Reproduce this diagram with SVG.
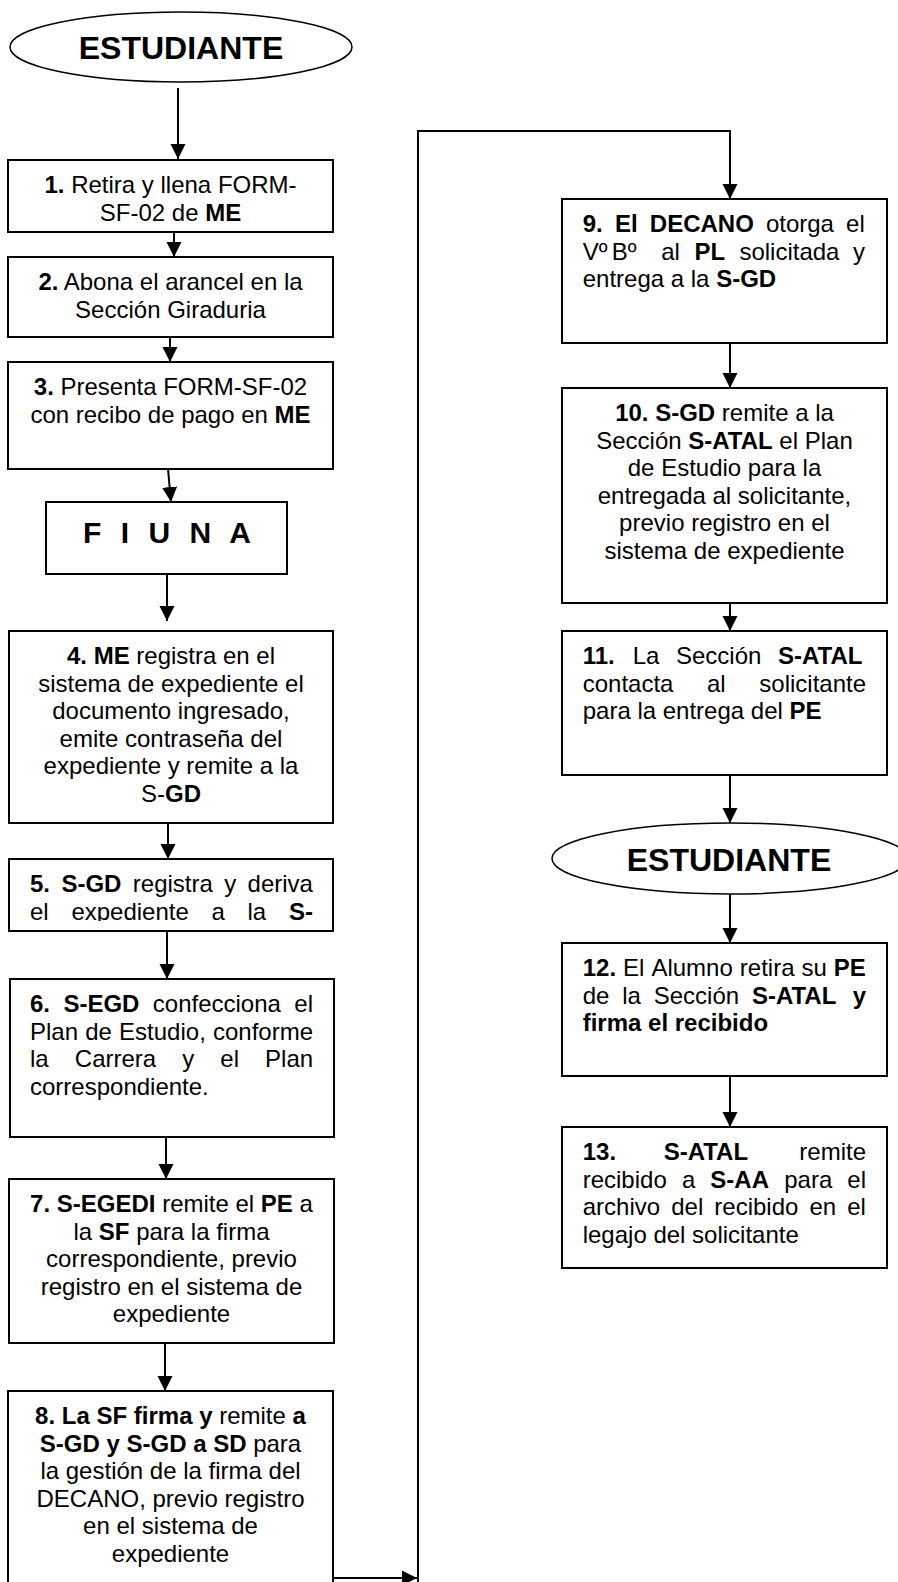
<svg xmlns="http://www.w3.org/2000/svg" width="898" height="1582" viewBox="0 0 898 1582">
<style>
.box{fill:#fff;stroke:#000;stroke-width:2}
.ell{fill:#fff;stroke:#000;stroke-width:1.5}
.t{font-family:"Liberation Sans",Arial,sans-serif;font-size:24px;fill:#000}
.c{text-anchor:middle}
.b{font-weight:bold}
.big{font-family:"Liberation Sans",Arial,sans-serif;font-size:32px;font-weight:bold;fill:#000;text-anchor:middle}
.con{fill:none;stroke:#000;stroke-width:2}
</style>
<defs>
<marker id="ah" viewBox="0 0 10 10" refX="10" refY="5" markerWidth="15" markerHeight="16" markerUnits="userSpaceOnUse" orient="auto"><path d="M0,0L10,5L0,10z" fill="#000"/></marker>
<clipPath id="clip5"><rect x="9" y="859" width="324" height="62"/></clipPath>
</defs>
<rect width="898" height="1582" fill="#fff"/>

<g id="connectors">
<path class="con" d="M178,88V159" marker-end="url(#ah)"/>
<path class="con" d="M174,232V257" marker-end="url(#ah)"/>
<path class="con" d="M170,337V362" marker-end="url(#ah)"/>
<path class="con" d="M168,469L171,502" marker-end="url(#ah)"/>
<path class="con" d="M167,574V621" marker-end="url(#ah)"/>
<path class="con" d="M168,823V859" marker-end="url(#ah)"/>
<path class="con" d="M167,931V979" marker-end="url(#ah)"/>
<path class="con" d="M166,1137V1179" marker-end="url(#ah)"/>
<path class="con" d="M165,1343V1391" marker-end="url(#ah)"/>
<path class="con" d="M333,1578H417" marker-end="url(#ah)"/>
<path class="con" d="M418,1582V131H730V199" marker-end="url(#ah)"/>
<path class="con" d="M730,343V388" marker-end="url(#ah)"/>
<path class="con" d="M730,603V631" marker-end="url(#ah)"/>
<path class="con" d="M730,775V823" marker-end="url(#ah)"/>
<path class="con" d="M730,894V943" marker-end="url(#ah)"/>
<path class="con" d="M730,1076V1127" marker-end="url(#ah)"/>
</g>

<g id="n-start">
<ellipse class="ell" cx="181" cy="47" rx="171" ry="35"/>
<text class="big" x="181" y="59">ESTUDIANTE</text>
</g>

<g id="n1">
<rect class="box" x="8" y="160" width="325" height="72"/>
<text class="t c" x="170.5" y="193"><tspan class="b">1.</tspan> Retira y llena FORM-</text>
<text class="t c" x="170.5" y="220.6">SF-02 de <tspan class="b">ME</tspan></text>
</g>

<g id="n2">
<rect class="box" x="8" y="257" width="325" height="80"/>
<text class="t c" x="170.5" y="290"><tspan class="b">2.</tspan> Abona el arancel en la</text>
<text class="t c" x="170.5" y="317.6">Sección Giraduria</text>
</g>

<g id="n3">
<rect class="box" x="8" y="362" width="325" height="107"/>
<text class="t c" x="170.5" y="395"><tspan class="b">3.</tspan> Presenta FORM-SF-02</text>
<text class="t c" x="170.5" y="422.6">con recibo de pago en <tspan class="b">ME</tspan></text>
</g>

<g id="n-fiuna">
<rect class="box" x="46" y="502" width="241" height="72"/>
<text x="83" y="543" textLength="168" lengthAdjust="spacing" style="font-family:'Liberation Sans',Arial,sans-serif;font-size:30px;font-weight:bold;fill:#000">F I U N A</text>
</g>

<g id="n4">
<rect class="box" x="9" y="631" width="324" height="192"/>
<text class="t c" x="171" y="664"><tspan class="b">4. ME</tspan> registra en el</text>
<text class="t c" x="171" y="691.6">sistema de expediente el</text>
<text class="t c" x="171" y="719.2">documento ingresado,</text>
<text class="t c" x="171" y="746.8">emite contraseña del</text>
<text class="t c" x="171" y="774.4">expediente y remite a la</text>
<text class="t c" x="171" y="802">S-<tspan class="b">GD</tspan></text>
</g>

<g id="n5">
<rect class="box" x="9" y="859" width="324" height="72"/>
<g clip-path="url(#clip5)">
<text class="t" y="892"><tspan x="30" class="b">5.</tspan><tspan x="61.4" class="b">S-GD</tspan><tspan x="132.8">registra</tspan><tspan x="224.2">y</tspan><tspan x="247.6">deriva</tspan></text>
<text class="t" y="919.6"><tspan x="30">el</tspan><tspan x="71.4">expediente</tspan><tspan x="211.5">a</tspan><tspan x="247.5">la</tspan><tspan x="288.9" class="b">S-</tspan></text>
</g>
</g>

<g id="n6">
<rect class="box" x="10" y="979" width="324" height="158"/>
<text class="t" y="1012"><tspan x="30" class="b">6.</tspan><tspan x="63.4" class="b">S-EGD</tspan><tspan x="152.8">confecciona</tspan><tspan x="294.3">el</tspan></text>
<text class="t" y="1039.6"><tspan x="30">Plan</tspan><tspan x="85.2">de</tspan><tspan x="119.1">Estudio,</tspan><tspan x="213">conforme</tspan></text>
<text class="t" y="1067.2"><tspan x="30">la</tspan><tspan x="74.8">Carrera</tspan><tspan x="182.2">y</tspan><tspan x="220.3">el</tspan><tspan x="265.1">Plan</tspan></text>
<text class="t" x="30" y="1094.8">correspondiente.</text>
</g>

<g id="n7">
<rect class="box" x="9" y="1179" width="325" height="164"/>
<text class="t c" x="171.5" y="1212"><tspan class="b">7. S-EGEDI</tspan> remite el <tspan class="b">PE</tspan> a</text>
<text class="t c" x="171.5" y="1239.6">la <tspan class="b">SF</tspan> para la firma</text>
<text class="t c" x="171.5" y="1267.2">correspondiente, previo</text>
<text class="t c" x="171.5" y="1294.8">registro en el sistema de</text>
<text class="t c" x="171.5" y="1322.4">expediente</text>
</g>

<g id="n8">
<rect class="box" x="8" y="1391" width="325" height="210"/>
<text class="t c" x="170.5" y="1424"><tspan class="b">8. La SF firma y</tspan> remite <tspan class="b">a</tspan></text>
<text class="t c" x="170.5" y="1451.6"><tspan class="b">S-GD y S-GD a SD</tspan> para</text>
<text class="t c" x="170.5" y="1479.2">la gestión de la firma del</text>
<text class="t c" x="170.5" y="1506.8">DECANO, previo registro</text>
<text class="t c" x="170.5" y="1534.4">en el sistema de</text>
<text class="t c" x="170.5" y="1562">expediente</text>
</g>

<g id="n9">
<rect class="box" x="562" y="199" width="325" height="144"/>
<text class="t" y="232"><tspan x="582.7" class="b">9.</tspan><tspan x="614.9" class="b">El</tspan><tspan x="649.8" class="b">DECANO</tspan><tspan x="765.9">otorga</tspan><tspan x="846.1">el</tspan></text>
<text class="t" y="259.6"><tspan x="582.7">Vº</tspan><tspan x="611.7">Bº</tspan><tspan x="661.2">al</tspan><tspan x="694.4" class="b">PL</tspan><tspan x="739.4">solicitada</tspan><tspan x="853">y</tspan></text>
<text class="t" x="582.7" y="287.2">entrega a la <tspan class="b">S-GD</tspan></text>
</g>

<g id="n10">
<rect class="box" x="562" y="388" width="325" height="215"/>
<text class="t c" x="724.5" y="421"><tspan class="b">10. S-GD</tspan> remite a la</text>
<text class="t c" x="724.5" y="448.6">Sección <tspan class="b">S-ATAL</tspan> el Plan</text>
<text class="t c" x="724.5" y="476.2">de Estudio para la</text>
<text class="t c" x="724.5" y="503.8">entregada al solicitante,</text>
<text class="t c" x="724.5" y="531.4">previo registro en el</text>
<text class="t c" x="724.5" y="559">sistema de expediente</text>
</g>

<g id="n11">
<rect class="box" x="562" y="631" width="325" height="144"/>
<text class="t" y="664"><tspan x="582.7" class="b">11.</tspan><tspan x="632.7">La</tspan><tspan x="676">Sección</tspan><tspan x="778" class="b">S-ATAL</tspan></text>
<text class="t" y="691.6"><tspan x="582.7">contacta</tspan><tspan x="707">al</tspan><tspan x="759.3">solicitante</tspan></text>
<text class="t" x="582.7" y="719.2">para la entrega del <tspan class="b">PE</tspan></text>
</g>

<g id="n-end">
<ellipse class="ell" cx="730" cy="858.5" rx="178" ry="35.5"/>
<text class="big" x="729" y="871">ESTUDIANTE</text>
</g>

<g id="n12">
<rect class="box" x="562" y="943" width="325" height="133"/>
<text class="t" y="976"><tspan x="582.7" class="b">12.</tspan><tspan x="623.1">El</tspan><tspan x="651.4">Alumno</tspan><tspan x="739.8">retira</tspan><tspan x="801.5">su</tspan><tspan x="833.8" class="b">PE</tspan></text>
<text class="t" y="1003.6"><tspan x="582.7">de</tspan><tspan x="622.2">la</tspan><tspan x="653.7">Sección</tspan><tspan x="751.9" class="b">S-ATAL</tspan><tspan x="852.7" class="b">y</tspan></text>
<text class="t b" x="582.7" y="1031.2">firma el recibido</text>
</g>

<g id="n13">
<rect class="box" x="562" y="1127" width="325" height="141"/>
<text class="t" y="1160"><tspan x="582.7" class="b">13.</tspan><tspan x="663.7" class="b">S-ATAL</tspan><tspan x="799.3">remite</tspan></text>
<text class="t" y="1187.6"><tspan x="582.7">recibido</tspan><tspan x="681.9">a</tspan><tspan x="710.3" class="b">S-AA</tspan><tspan x="784.2">para</tspan><tspan x="847.3">el</tspan></text>
<text class="t" y="1215.2"><tspan x="582.7">archivo</tspan><tspan x="671.2">del</tspan><tspan x="714.3">recibido</tspan><tspan x="809.4">en</tspan><tspan x="847.2">el</tspan></text>
<text class="t" x="582.7" y="1242.8">legajo del solicitante</text>
</g>
</svg>
